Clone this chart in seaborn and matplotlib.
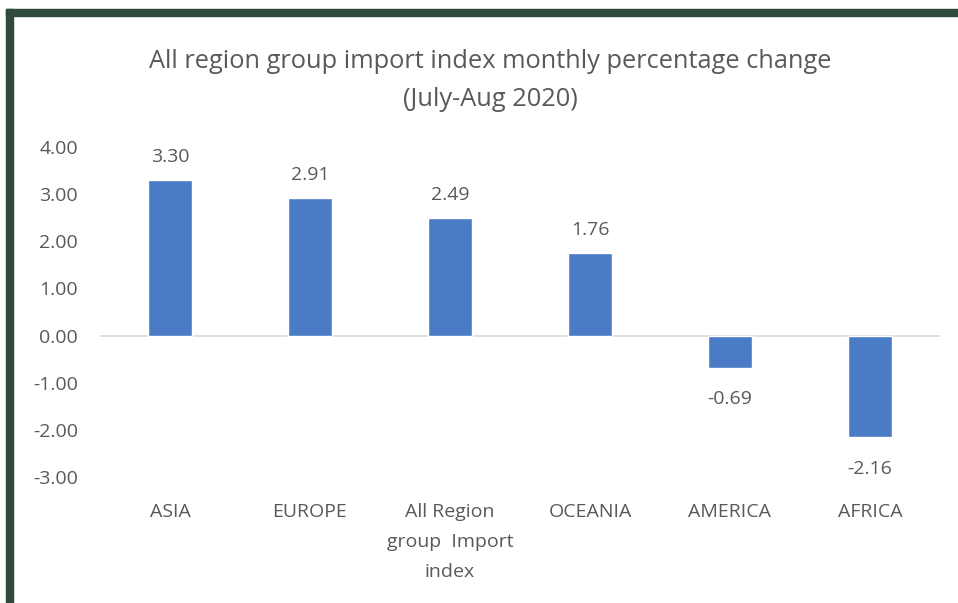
import matplotlib
matplotlib.use("Agg")
import matplotlib.pyplot as plt
import matplotlib.patches as mpatches
import seaborn as sns
import pandas as pd

# data
regions = ["ASIA", "EUROPE", "All Region\ngroup  Import\nindex", "OCEANIA", "AMERICA", "AFRICA"]
pct_change = [3.30, 2.91, 2.49, 1.76, -0.69, -2.16]
yticks = [4, 3, 2, 1, 0, -1, -2, -3]

df = pd.DataFrame({"region": regions, "change": pct_change})

sns.set_theme(style="white")
plt.rcParams["font.family"] = ["Open Sans", "DejaVu Sans"]
plt.rcParams["axes.unicode_minus"] = False

grey = "#595959"
fig = plt.figure(figsize=(9.58, 6.03), dpi=100)
ax = fig.add_axes([100 / 958, 1 - 477 / 603, 840 / 958, 330 / 603])

sns.barplot(data=df, x="region", y="change", color="#4a7cc6", width=0.32,
            saturation=1, ax=ax)

ax.axhline(0, color="#d9d9d9", lw=1.2, zorder=0)
ax.set_xlim(-0.5, 5.5)
ax.set_ylim(-3, 4)
ax.set_yticks(yticks)
ax.set_yticklabels(["%.2f" % t for t in yticks])
ax.set_xlabel("")
ax.set_ylabel("")
sns.despine(ax=ax, left=True, bottom=True)
ax.tick_params(axis="y", length=0, pad=16, labelsize=14, labelcolor=grey)
ax.tick_params(axis="x", length=0, pad=19, labelsize=14, labelcolor=grey)
for lab in ax.get_xticklabels():
    lab.set_linespacing(1.85)
    lab.set_va("top")

# value labels: above positive bars, below negative ones
pos_labels = ["%.2f" % v if v >= 0 else "" for v in pct_change]
neg_labels = ["%.2f" % v if v < 0 else "" for v in pct_change]
ax.bar_label(ax.containers[0], labels=pos_labels, padding=10, fontsize=14, color=grey)
ax.bar_label(ax.containers[0], labels=neg_labels, padding=16, fontsize=14, color=grey)

fig.text(490 / 958, 1 - 49 / 603,
         "All region group import index monthly percentage change\n(July-Aug 2020)",
         ha="center", va="top", fontsize=18.3, color=grey, linespacing=1.7)

# dark green frame at top and left
green = "#2f4a3a"
fig.patches.append(mpatches.Rectangle((6 / 958, 1 - 16 / 603), 1, 7 / 603,
                                      transform=fig.transFigure, color=green))
fig.patches.append(mpatches.Rectangle((6 / 958, 0), 7 / 958, 1 - 9 / 603,
                                      transform=fig.transFigure, color=green))

fig.savefig("out.png", dpi=100)
